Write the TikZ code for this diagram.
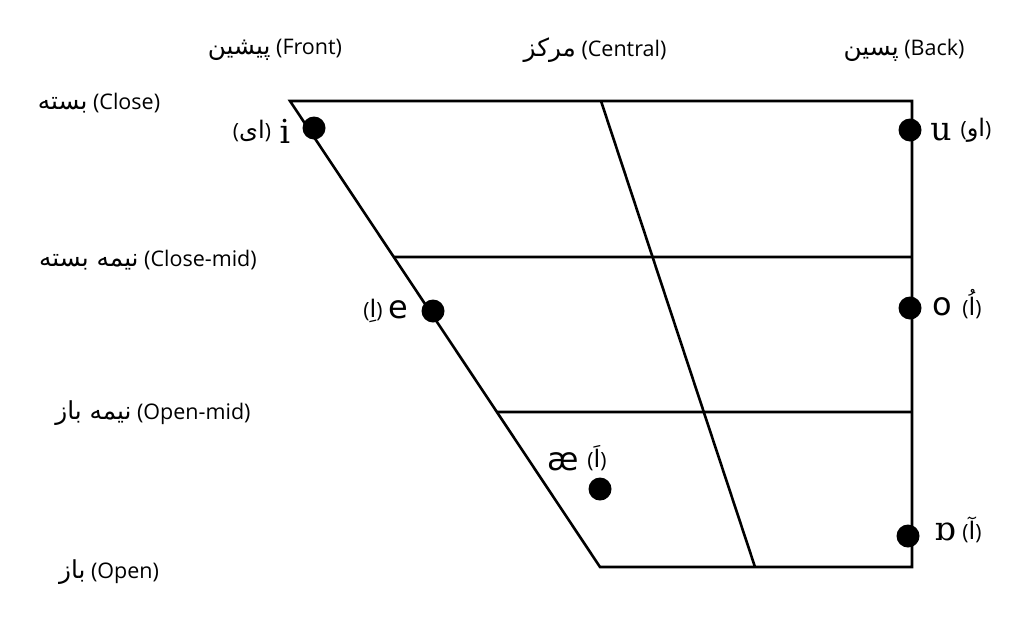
\documentclass[tikz,border=0pt]{standalone}
\usepackage{fontspec}
\setmainfont{Open Sans}
\newfontfamily\arabicfont[Script=Arabic,Scale=1.15]{DejaVu Sans}
\newfontfamily\ipaserif{DejaVu Serif}
\newfontfamily\ipasans{DejaVu Sans}
\TeXXeTstate=1
\usetikzlibrary{calc}
\tikzset{
  chartline/.style={line width=2.6pt, line join=miter},
  vdot/.style={circle, fill=black, inner sep=0pt, minimum size=23pt},
  axislabel/.style={inner sep=0pt, font=\fontsize{21.5}{24}\selectfont},
  ipaS/.style={inner sep=0pt, font=\fontsize{33}{36}\ipaserif},
  ipaN/.style={inner sep=0pt, font=\fontsize{32}{35}\ipasans},
  arlabel/.style={inner sep=0pt, font=\fontsize{21}{24}\selectfont},
}
\begin{document}
\begin{tikzpicture}[x=1pt,y=-1pt]
\useasboundingbox (0,0) rectangle (1024,635);
% chart frame
\coordinate (TL) at (290,101);
\coordinate (TR) at (912,101);
\coordinate (BR) at (912,567);
\coordinate (BL) at (600,567);
\coordinate (TC) at (601,101);
\coordinate (BC) at (755,567);
\coordinate (CML) at ($(TL)!0.3348!(BL)$);
\coordinate (CMR) at (912,257);
\coordinate (OML) at ($(TL)!0.6674!(BL)$);
\coordinate (OMR) at (912,412);
\draw[chartline] (TL) -- (TR) -- (BR) -- (BL) -- cycle;
\draw[chartline] (TC) -- (BC);
\draw[chartline] (CML) -- (CMR);
\draw[chartline] (OML) -- (OMR);
% column labels
\node[axislabel] (front) at (275,50) {{\arabicfont\beginR پیشین\endR} (Front)};
\node[axislabel] (central) at (595,50) {{\arabicfont\beginR مرکز\endR} (Central)};
\node[axislabel] (back) at (904,50) {{\arabicfont\beginR پسین\endR} (Back)};
% row labels
\node[axislabel] (close) at (99,103) {{\arabicfont\beginR بسته\endR} (Close)};
\node[axislabel] (closemid) at (148,260) {{\arabicfont\beginR نیمه بسته\endR} (Close-mid)};
\node[axislabel] (openmid) at (153,413) {{\arabicfont\beginR نیمه باز\endR} (Open-mid)};
\node[axislabel] (open) at (109,572) {{\arabicfont\beginR باز\endR} (Open)};
% vowel dots
\node[vdot] (di) at (314,128) {};
\node[vdot] (du) at (910,130) {};
\node[vdot] (de) at (433,311) {};
\node[vdot] (do) at (910,308) {};
\node[vdot] (dae) at (600,489) {};
\node[vdot] (dq) at (908,536) {};
% vowel symbols
\node[ipaS] (si) at (285,131) {i};
\node[arlabel] (ai) at (252,131) {({\arabicfont\beginR ای\endR})};
\node[ipaS] (su) at (941,132) {u};
\node[arlabel] (au) at (976,130) {({\arabicfont\beginR او\endR})};
\node[ipaN] (se) at (398,310) {e};
\node[arlabel] (ae) at (373,311) {({\arabicfont اِ})};
\node[ipaN] (so) at (942,307) {o};
\node[arlabel] (ao) at (972,304) {({\arabicfont اُ})};
\node[ipaN] (sae) at (563,462) {æ};
\node[arlabel] (aae) at (597,458) {({\arabicfont اَ})};
\node[ipaS] (sq) at (945,532) {ɒ};
\node[arlabel] (aq) at (972,530) {({\arabicfont آ})};
\end{tikzpicture}
\end{document}
